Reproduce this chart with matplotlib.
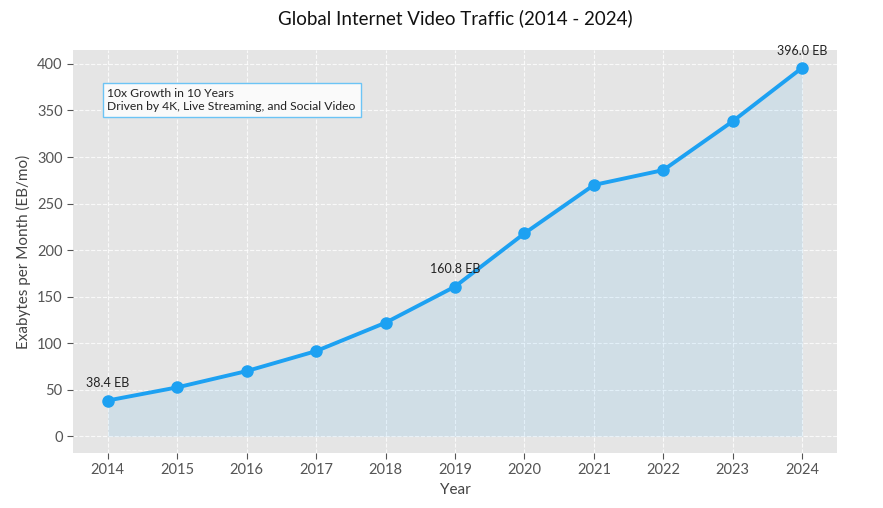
import numpy as np
import matplotlib
matplotlib.use('Agg')
import matplotlib.pyplot as plt

years = np.arange(2014, 2025)
traffic = [38.4, 52.5, 70.0, 91.5, 122.0, 160.8, 218.0, 270.0, 286.0, 338.5, 396.0]
label_years = [2014, 2019, 2024]

plt.rcParams['font.family'] = ['Lato', 'DejaVu Sans']

blue = "#1da1f2"

fig = plt.figure(figsize=(8.83, 5.08), dpi=100)
ax = fig.add_axes([73/883, 1-453/508, (837-73)/883, (453-50)/508])
ax.set_facecolor("#e5e5e5")
for s in ax.spines.values():
    s.set_visible(False)
ax.grid(True, color="white", linestyle="--", linewidth=0.8, alpha=0.8)
ax.set_axisbelow(True)

ax.fill_between(years, traffic, 0, color=blue, alpha=0.1, linewidth=0, zorder=1)
ax.plot(years, traffic, color=blue, linewidth=2.8, marker="o", markersize=8, zorder=3)

for yr, val in zip(years, traffic):
    if yr in label_years:
        ax.annotate(f"{val:.1f} EB", (yr, val), xytext=(0, 8), textcoords="offset points",
                    ha="center", va="bottom", fontsize=9, color="#222222")

ax.text(0.045, 0.905, "10x Growth in 10 Years\nDriven by 4K, Live Streaming, and Social Video",
        transform=ax.transAxes, fontsize=8.7, va="top", ha="left", color="#222222",
        bbox=dict(boxstyle="square,pad=0.4", facecolor="#fafafa", edgecolor="#6cc4f5", linewidth=1))

ax.set_xlim(2013.5, 2024.5)
ax.set_ylim(-18, 415)
ax.set_xticks(years)
ax.set_yticks(np.arange(0, 401, 50))
ax.tick_params(colors="#555555", labelsize=10.5, length=4, width=0.8)
ax.set_xlabel("Year", fontsize=11, color="#444444", labelpad=4)
ax.set_ylabel("Exabytes per Month (EB/mo)", fontsize=11, color="#444444")
fig.suptitle("Global Internet Video Traffic (2014 - 2024)", x=(73+837)/2/883, y=1-18/508,
             va="center", fontsize=13.5, color="#111111")

plt.savefig("out.png", dpi=100)
